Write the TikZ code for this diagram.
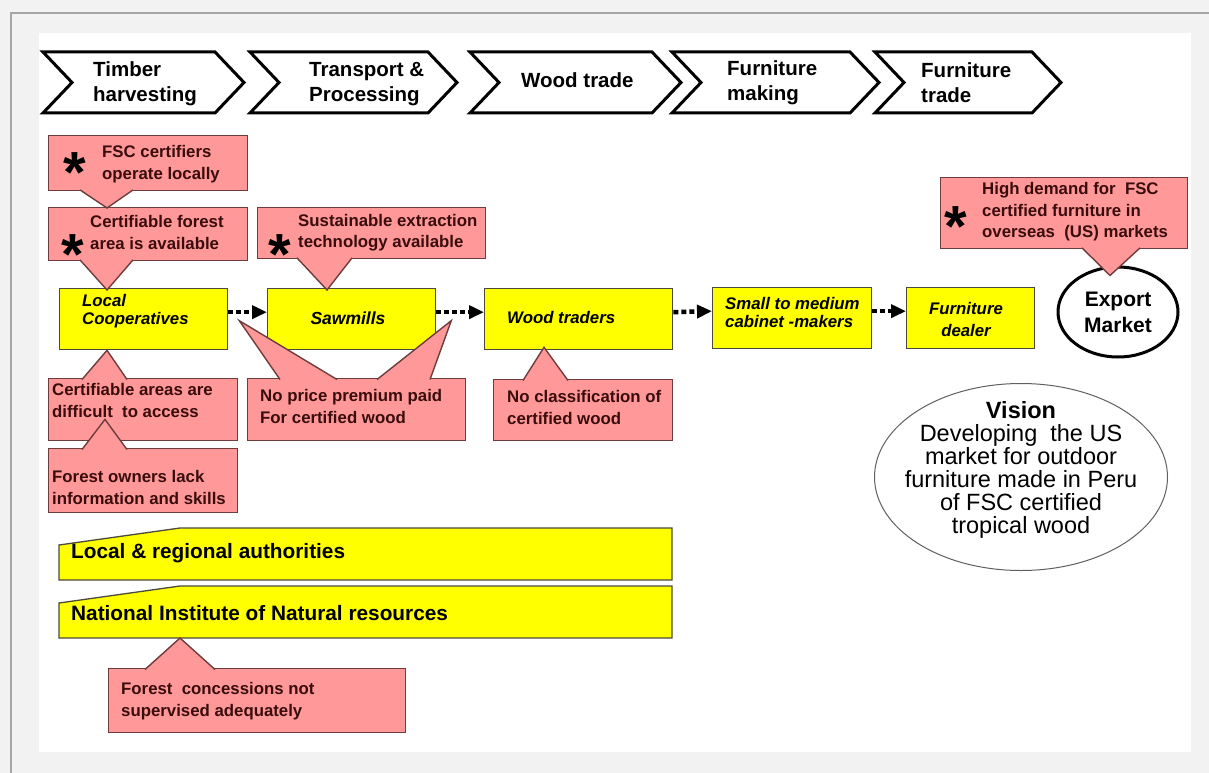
\documentclass[tikz,border=0pt]{standalone}
\usepackage{fontspec}
\setmainfont{Liberation Sans}
\usepackage{tikz}
\usetikzlibrary{positioning,calc,shapes.geometric,arrows.meta}
\usepackage{xcolor}
\definecolor{pagegray}{HTML}{F2F2F2}
\definecolor{framegray}{HTML}{A6A6A6}
\definecolor{actoryellow}{HTML}{FFFF00}
\definecolor{actorline}{HTML}{4A4A3A}
\definecolor{callpink}{HTML}{FF9999}
\definecolor{callline}{HTML}{6E3C3C}
\definecolor{callink}{HTML}{3A0C0C}
\definecolor{visionline}{HTML}{606060}
\newcommand{\calltip}[3]{%
  \fill[callpink] #1 -- #2 -- #3 -- cycle;
  \draw[callline, line width=1.4pt, line join=miter] #1 -- #2 -- #3;}

\begin{document}
\begin{tikzpicture}[x=1pt, y=-1pt,
    stage/.style={draw=black, line width=3pt, fill=white, line join=miter},
    stagetext/.style={font=\bfseries\fontsize{20.5}{25}\selectfont, align=left, anchor=west, inner sep=0},
    actor/.style={draw=actorline, fill=actoryellow, line width=1.3pt, inner sep=0, anchor=north west},
    actortext/.style={font=\bfseries\itshape\fontsize{16.8}{18.5}\selectfont, align=left, inner sep=0},
    authtext/.style={font=\bfseries\fontsize{20.8}{24}\selectfont, anchor=west, inner sep=0},
    callbox/.style={draw=callline, fill=callpink, line width=1.4pt, inner sep=0, anchor=north west},
    calltext/.style={font=\bfseries\fontsize{16.8}{21.5}\selectfont, text=callink, align=left, anchor=west, inner sep=0},
    bigstar/.style={font=\bfseries\fontsize{58}{58}\selectfont, anchor=base, inner sep=0},
    flow/.style={line width=4.5pt, dash pattern=on 5pt off 3pt, -{Triangle[length=15pt, width=13pt]}}]

  % Page
  \useasboundingbox (0,0) rectangle (1209,773);
  \fill[pagegray] (0,0) rectangle (1209,773);
  \draw[framegray, line width=2.5pt] (11,773) -- (11,13) -- (1209,13);
  \fill[white] (39,33) rectangle (1191,752);

  % Value chain stages
  \draw[stage] (43,52) -- (215,52) -- (244,82.5) -- (215,113) -- (43,113) -- (72,82.5) -- cycle;
  \node[stagetext] (harvest) at (93,84) {Timber\\harvesting};
  \draw[stage] (250,52) -- (428,52) -- (457,82.5) -- (428,113) -- (250,113) -- (279,82.5) -- cycle;
  \node[stagetext] (transport) at (309,84) {Transport \&\\Processing};
  \draw[stage] (470,52) -- (652,52) -- (681,82.5) -- (652,113) -- (470,113) -- (499,82.5) -- cycle;
  \node[stagetext] (woodtrade) at (521,80) {Wood trade};
  \draw[stage] (672,52) -- (850,52) -- (879,82.5) -- (850,113) -- (672,113) -- (701,82.5) -- cycle;
  \node[stagetext] (making) at (727,83) {Furniture\\making};
  \draw[stage] (875,52) -- (1032,52) -- (1061,82.5) -- (1032,113) -- (875,113) -- (904,82.5) -- cycle;
  \node[stagetext] (furntrade) at (921,83) {Furniture\\trade};

  % Actors
  \node[actor, minimum width=168pt, minimum height=61pt] (coop) at (59,288) {};
  \node[actortext, anchor=west] (cooptext) at (82,311) {Local\\Cooperatives};
  \node[actor, minimum width=168pt, minimum height=61pt] (sawmills) at (267,288) {};
  \node[actortext, font=\bfseries\itshape\fontsize{17.5}{20}\selectfont] (sawtext) at (348,318) {Sawmills};
  \node[actor, minimum width=188pt, minimum height=61pt] (traders) at (484,288) {};
  \node[actortext, anchor=west] (tradtext) at (507,317) {Wood traders};
  \node[actor, minimum width=159pt, minimum height=61pt] (cabinet) at (712,287) {};
  \node[actortext, anchor=west] (cabtext) at (725,312.5) {Small to medium\\cabinet -makers};
  \node[actor, minimum width=128pt, minimum height=61pt] (dealer) at (906,287) {};
  \node[actortext, align=center, font=\bfseries\itshape\fontsize{16.8}{22}\selectfont] (dealtext) at (966,319) {Furniture\\dealer};
  \node[draw=black, line width=3pt, ellipse, fill=white, minimum width=120pt, minimum height=90pt, inner sep=0,
        align=center, font=\bfseries\fontsize{21}{26}\selectfont] (export) at (1118,312) {Export\\Market};

  % Flow
  \draw[flow] ([yshift=7pt]coop.east) -- ([yshift=7pt]sawmills.west);
  \draw[flow] ([yshift=7pt]sawmills.east) -- ([yshift=7pt]traders.west);
  \draw[flow] ([yshift=7pt]traders.east) -- ([yshift=7pt]cabinet.west);
  \draw[flow] ([yshift=7pt]cabinet.east) -- ([yshift=7pt]dealer.west);

  % Success factors
  \node[callbox, minimum width=199pt, minimum height=55pt] (fsc) at (48,135) {};
  \node[calltext] (fsctext) at (102,164) {FSC certifiers\\operate locally};
  \node[bigstar] (fscstar) at (75,192) {*};
  \node[callbox, minimum width=199pt, minimum height=53pt] (forest) at (48,207) {};
  \calltip{($(fsc.south west)+(32,-1.5)$)}{($(forest.north west)+(59,1)$)}{($(fsc.south west)+(85,-1.5)$)}
  \node[calltext] (foresttext) at (90,232.5) {Certifiable forest\\area is available};
  \node[bigstar] (foreststar) at (73,274) {*};
  \calltip{($(forest.south west)+(32,-1.5)$)}{($(coop.north west)+(48,2)$)}{($(forest.south west)+(85,-1.5)$)}

  \node[callbox, minimum width=228pt, minimum height=51pt] (sustain) at (257,207) {};
  \node[calltext] (sustaintext) at (298,232.5) {Sustainable extraction\\technology available};
  \node[bigstar] (sustainstar) at (280,274) {*};
  \calltip{($(sustain.south west)+(40,-1.5)$)}{($(sawmills.north west)+(60,2)$)}{($(sustain.south west)+(95,-1.5)$)}

  \node[callbox, minimum width=247pt, minimum height=71pt] (demand) at (940,177) {};
  \node[calltext] (demandtext) at (982,212) {High demand for\ \ FSC\\certified furniture in\\overseas\ \ (US) markets};
  \node[bigstar] (demandstar) at (956,246) {*};
  \calltip{($(demand.south west)+(142,-1.5)$)}{($(export.north)+(-8,10)$)}{($(demand.south west)+(200,-1.5)$)}

  % Constraints
  \node[callbox, minimum width=189pt, minimum height=62pt] (areas) at (48,378) {};
  \calltip{($(areas.north west)+(34,1.5)$)}{($(coop.south west)+(48,0)$)}{($(areas.north west)+(79,1.5)$)}
  \node[calltext] (areastext) at (52,400.5) {Certifiable areas are\\difficult\ \ to access};
  \node[callbox, minimum width=189pt, minimum height=64pt] (owners) at (48,448) {};
  \calltip{($(owners.north west)+(34,1.5)$)}{($(areas.south west)+(57,-22)$)}{($(owners.north west)+(79,1.5)$)}
  \node[calltext] (ownerstext) at (52,487.5) {Forest owners lack\\information and skills};

  \node[callbox, minimum width=218pt, minimum height=62pt] (premium) at (247,378) {};
  \calltip{($(premium.north west)+(33,1.5)$)}{($(coop.east)+(11,1.5)$)}{($(premium.north west)+(90,1.5)$)}
  \calltip{($(premium.north west)+(130,1.5)$)}{($(sawmills.east)+(15,1.5)$)}{($(premium.north west)+(183,1.5)$)}
  \node[calltext] (premiumtext) at (260,406.5) {No price premium paid\\For certified wood};

  \node[callbox, minimum width=179pt, minimum height=61pt] (classif) at (493,379) {};
  \calltip{($(classif.north west)+(30,1.5)$)}{($(traders.south west)+(60,-3)$)}{($(classif.north west)+(75,1.5)$)}
  \node[calltext] (classiftext) at (507,407.5) {No classification of\\certified wood};

  % Authorities
  \draw[actor] (59,545) -- (180,528) -- (672,528) -- (672,580) -- (59,580) -- cycle;
  \node[authtext] (regional) at (71,553) {Local \& regional authorities};
  \draw[actor] (59,603) -- (180,586) -- (672,586) -- (672,638) -- (59,638) -- cycle;
  \node[authtext] (inrena) at (71,613) {National Institute of Natural resources};
  \coordinate (inrenabase) at (180,638);

  \node[callbox, minimum width=297pt, minimum height=64pt] (concession) at (108,668) {};
  \calltip{($(concession.north west)+(37,1.5)$)}{(inrenabase)}{($(concession.north west)+(107,1.5)$)}
  \node[calltext] (concessiontext) at (121,701) {Forest\ \ concessions not\\supervised adequately};

  % Vision
  \node[draw=visionline, line width=1pt, ellipse, minimum width=293pt, minimum height=187pt, inner sep=0] (vision) at (1021,477) {};
  \node[font=\fontsize{23.5}{23}\selectfont, align=center, inner sep=0] (visiontext) at (1021,470)
    {{\bfseries Vision}\\Developing\ \ the US\\market for outdoor\\furniture made in Peru\\of FSC certified\\tropical wood};
\end{tikzpicture}
\end{document}
